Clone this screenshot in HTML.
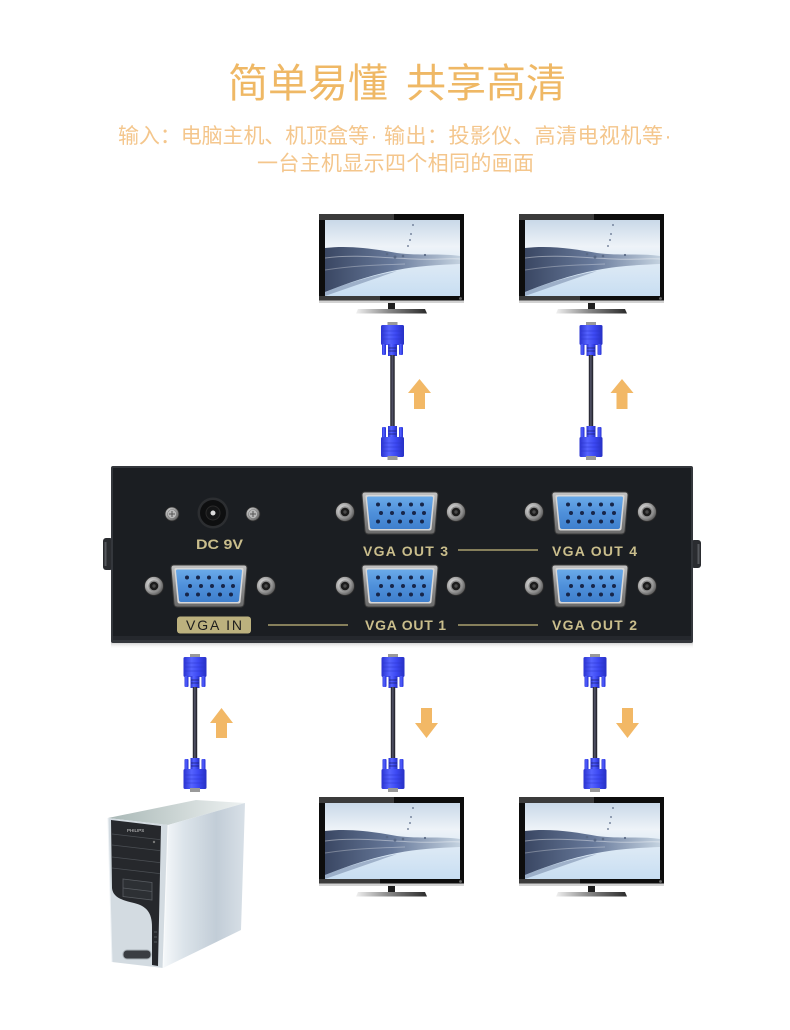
<!DOCTYPE html>
<html><head><meta charset="utf-8"><style>
html,body{margin:0;padding:0;background:#fff;}
svg{display:block;}
</style></head><body>
<svg width="790" height="1030" viewBox="0 0 790 1030" xmlns="http://www.w3.org/2000/svg">
<defs>
  <linearGradient id="shl" x1="0" y1="0" x2="0" y2="1">
    <stop offset="0" stop-color="#c4c4c4"/><stop offset="0.5" stop-color="#8e8e8e"/><stop offset="1" stop-color="#6a6a6a"/>
  </linearGradient>
  <linearGradient id="bp" x1="0" y1="0" x2="0" y2="1">
    <stop offset="0" stop-color="#6aaae9"/><stop offset="0.5" stop-color="#4f90da"/><stop offset="1" stop-color="#3f7fcd"/>
  </linearGradient>
  <radialGradient id="scr" cx="0.4" cy="0.4" r="0.6">
    <stop offset="0" stop-color="#f2f2f2"/><stop offset="0.6" stop-color="#a8a8a8"/><stop offset="1" stop-color="#5e5e5e"/>
  </radialGradient>
  <linearGradient id="cb" x1="0" y1="0" x2="1" y2="0">
    <stop offset="0" stop-color="#2a33d0"/><stop offset="0.35" stop-color="#5563ff"/><stop offset="0.65" stop-color="#3c48f2"/><stop offset="1" stop-color="#2630c4"/>
  </linearGradient>
  <linearGradient id="cbl" x1="0" y1="0" x2="1" y2="0">
    <stop offset="0" stop-color="#15151c"/><stop offset="0.45" stop-color="#55566a"/><stop offset="1" stop-color="#15151c"/>
  </linearGradient>
  <linearGradient id="sky" x1="0" y1="0" x2="0" y2="1">
    <stop offset="0" stop-color="#c9d8e8"/><stop offset="0.35" stop-color="#eef3f8"/><stop offset="0.6" stop-color="#dce9f5"/><stop offset="1" stop-color="#c8def2"/>
  </linearGradient>
  <linearGradient id="wv" x1="0" y1="0" x2="1" y2="0">
    <stop offset="0" stop-color="#3a4763"/><stop offset="0.5" stop-color="#67799a"/><stop offset="1" stop-color="#c4d2e0"/>
  </linearGradient>
  <linearGradient id="bas" x1="0" y1="0" x2="1" y2="0">
    <stop offset="0" stop-color="#f0f0f0"/><stop offset="0.45" stop-color="#8a8a8a"/><stop offset="1" stop-color="#2a2a2a"/>
  </linearGradient>
  <linearGradient id="pct" x1="0" y1="0" x2="1" y2="0">
    <stop offset="0" stop-color="#a9b8b6"/><stop offset="1" stop-color="#eef2f2"/>
  </linearGradient>
  <linearGradient id="pcs" x1="0" y1="0" x2="1" y2="0">
    <stop offset="0" stop-color="#f6f9fb"/><stop offset="0.25" stop-color="#dce4ea"/><stop offset="0.65" stop-color="#c2cdd7"/><stop offset="1" stop-color="#d8e0e7"/>
  </linearGradient>
  <linearGradient id="shd" x1="0" y1="0" x2="0" y2="1">
    <stop offset="0" stop-color="#888" stop-opacity="0.8"/><stop offset="1" stop-color="#fff" stop-opacity="0"/>
  </linearGradient>

  <g id="vp">
    <path d="M-38,-18 Q-38,-21 -35,-21 L35,-21 Q38,-21 38,-18 L35,18 Q34.5,21 31.5,21 L-31.5,21 Q-34.5,21 -35,18 Z" fill="url(#shl)" stroke="#3a3a3a" stroke-width="1"/>
    <path d="M-34.5,-16.5 Q-34.5,-18 -33,-18 L33,-18 Q34.5,-18 34.5,-16.5 L31.5,16 Q31,17.5 29.5,17.5 L-29.5,17.5 Q-31,17.5 -31.5,16 Z" fill="#d8d8d8"/>
    <path d="M-33,-15 Q-33,-16.5 -31.5,-16.5 L31.5,-16.5 Q33,-16.5 33,-15 L30,14.5 Q29.5,16 28,16 L-28,16 Q-29.5,16 -30,14.5 Z" fill="url(#bp)"/>
    <g fill="#17264a">
      <circle cx="-22" cy="-8.5" r="2"/><circle cx="-11" cy="-8.5" r="2"/><circle cx="0" cy="-8.5" r="2"/><circle cx="11" cy="-8.5" r="2"/><circle cx="22" cy="-8.5" r="2"/>
      <circle cx="-19" cy="0" r="2"/><circle cx="-8" cy="0" r="2"/><circle cx="3" cy="0" r="2"/><circle cx="14" cy="0" r="2"/><circle cx="24" cy="0" r="2"/>
      <circle cx="-22" cy="8.5" r="2"/><circle cx="-11" cy="8.5" r="2"/><circle cx="0" cy="8.5" r="2"/><circle cx="11" cy="8.5" r="2"/><circle cx="22" cy="8.5" r="2"/>
    </g>
  </g>

  <g id="sc">
    <circle r="9.5" fill="url(#scr)" stroke="#2a2a2a" stroke-width="0.8"/>
    <circle r="5.6" fill="#8c8c8c"/>
    <circle r="4.3" fill="#1c1c1c"/>
    <circle r="1.7" fill="#4a4a4a"/>
  </g>
  <g id="sc2">
    <circle r="7" fill="url(#scr)" stroke="#2a2a2a" stroke-width="0.8"/>
    <circle r="4.5" fill="#b8b8b8" stroke="#777" stroke-width="0.6"/>
    <path d="M-3,0 H3 M0,-3 V3" stroke="#555" stroke-width="1"/>
  </g>

  <g id="cab">
    <rect x="-5" y="0" width="10" height="4" fill="#9a9a9a"/>
    <rect x="-11.5" y="3" width="23" height="20" rx="1.5" fill="url(#cb)"/>
    <path d="M-10,9 H10 M-10,13 H10 M-10,17 H10" stroke="#2a34c8" stroke-width="0.8" opacity="0.6"/>
    <rect x="-10.5" y="22" width="4" height="11" rx="1" fill="url(#cb)"/>
    <rect x="6.5" y="22" width="4" height="11" rx="1" fill="url(#cb)"/>
    <rect x="-4.5" y="22" width="9" height="12" fill="url(#cb)"/>
    <path d="M-4,26 H4 M-4,29 H4" stroke="#1a1f70" stroke-width="0.8"/>
    <rect x="-2.2" y="33" width="4.4" height="73" fill="url(#cbl)"/>
    <rect x="-4.5" y="104" width="9" height="12" fill="url(#cb)"/>
    <path d="M-4,109 H4 M-4,112 H4" stroke="#1a1f70" stroke-width="0.8"/>
    <rect x="-10.5" y="105" width="4" height="11" rx="1" fill="url(#cb)"/>
    <rect x="6.5" y="105" width="4" height="11" rx="1" fill="url(#cb)"/>
    <rect x="-11.5" y="115" width="23" height="20" rx="1.5" fill="url(#cb)"/>
    <path d="M-10,121 H10 M-10,125 H10 M-10,129 H10" stroke="#2a34c8" stroke-width="0.8" opacity="0.6"/>
    <rect x="-5" y="134" width="10" height="4" fill="#9a9a9a"/>
  </g>

  <g id="mon">
    <rect x="0" y="0" width="145" height="89" fill="#0d0d0d"/>
    <rect x="0" y="0" width="75" height="6" fill="#3b3b3b"/>
    <rect x="0" y="82" width="61" height="5" fill="#3b3b3b"/>
    <rect x="0" y="86.5" width="145" height="2.5" fill="#d2d2d2"/>
    <svg x="6" y="6" width="135" height="76" overflow="hidden">
      <rect width="135" height="76" fill="url(#sky)"/>
      <path d="M0,28 C25,25 50,29 72,33 C95,36 115,33 135,36 L135,44 C112,45 92,46 72,50 C45,55 20,64 0,72 Z" fill="url(#wv)"/>
      <path d="M0,72 C20,64 45,56 72,51 L0,76 Z" fill="#7d8fae" opacity="0.6"/>
      <path d="M0,38 C30,34 60,38 90,39 C110,40 125,38 135,39" stroke="#fff" stroke-opacity="0.4" stroke-width="1" fill="none"/>
      <path d="M0,50 C25,46 50,45 80,44" stroke="#fff" stroke-opacity="0.3" stroke-width="1" fill="none"/>
      <g fill="#5a6a86">
        <circle cx="88" cy="5" r="0.9"/><circle cx="86" cy="14" r="0.9"/><circle cx="85" cy="20" r="0.9"/><circle cx="83" cy="26" r="0.9"/>
        <circle cx="62" cy="34" r="1.3"/><circle cx="70" cy="37" r="1.5"/><circle cx="78" cy="36" r="1.3"/><circle cx="100" cy="35" r="1.1"/>
      </g>
    </svg>
    <circle cx="141.5" cy="84.5" r="1.4" fill="#666"/>
    <rect x="69" y="89" width="7" height="6" fill="#1e1e1e"/>
    <path d="M39,95 L106,95 L108,99.5 L37,99.5 Z" fill="url(#bas)"/>
  </g>
</defs>

<rect width="790" height="1030" fill="#fff"/>

<!-- Heading text -->
<g font-family="'Liberation Sans','Noto Sans CJK SC',sans-serif">
  <text x="228" y="97" font-size="40" fill="#efb865" textLength="160" lengthAdjust="spacing">简单易懂</text>
  <text x="406" y="97" font-size="40" fill="#efb865" textLength="160" lengthAdjust="spacing">共享高清</text>
  <text x="118" y="143" font-size="21" fill="#f4c68c" textLength="251" lengthAdjust="spacing">输入：电脑主机、机顶盒等</text>
  <text x="374" y="143" font-size="21" fill="#f4c68c" text-anchor="middle">·</text>
  <text x="384" y="143" font-size="21" fill="#f4c68c" textLength="279" lengthAdjust="spacing">输出：投影仪、高清电视机等</text>
  <text x="668" y="143" font-size="21" fill="#f4c68c" text-anchor="middle">·</text>
  <text x="257" y="170.5" font-size="21" fill="#f4c68c" textLength="277" lengthAdjust="spacing">一台主机显示四个相同的画面</text>
</g>

<!-- Top monitors -->
<use href="#mon" transform="translate(319,214)"/>
<use href="#mon" transform="translate(519,214)"/>

<!-- Top cables -->
<use href="#cab" transform="translate(392.5,322)"/>
<use href="#cab" transform="translate(591,322)"/>

<!-- Arrows -->
<g fill="#f2b866">
  <path d="M419.5,379 L431,393 L425,393 L425,409 L414,409 L414,393 L408,393 Z"/>
  <path d="M622,379 L633.5,393 L627.5,393 L627.5,409 L616.5,409 L616.5,393 L610.5,393 Z"/>
  <path d="M221.5,708 L233,723 L227,723 L227,738 L216,738 L216,723 L210,723 Z"/>
  <path d="M421,708 L432,708 L432,723 L438,723 L426.5,738 L415,723 L421,723 Z"/>
  <path d="M622,708 L633,708 L633,723 L639,723 L627.5,738 L616,723 L622,723 Z"/>
</g>

<!-- Splitter box -->
<rect x="111" y="640" width="582" height="9" fill="url(#shd)"/>
<rect x="103" y="538" width="10" height="32" rx="3" fill="#2a2c30"/>
<rect x="691" y="540" width="10" height="28" rx="3" fill="#2a2c30"/>
<rect x="104.5" y="542" width="2" height="24" fill="#55585d"/>
<rect x="697.5" y="544" width="2" height="20" fill="#55585d"/>
<rect x="111" y="466" width="582" height="177" rx="2" fill="#34373c"/>
<rect x="113" y="468" width="578" height="172" fill="#1b1e22"/>
<rect x="113" y="636" width="578" height="4" fill="#25282d"/>

<!-- DC jack -->
<use href="#sc2" transform="translate(172,514)"/>
<use href="#sc2" transform="translate(253,514)"/>
<circle cx="213" cy="513" r="15.5" fill="#2c2e31"/>
<circle cx="213" cy="513" r="13" fill="#0e0f10"/>
<circle cx="213" cy="513" r="7" fill="#141516" stroke="#2a2a2a" stroke-width="1"/>
<circle cx="213" cy="513" r="2.5" fill="#dcdcdc"/>

<!-- VGA ports -->
<use href="#vp" transform="translate(209,586)"/>
<use href="#vp" transform="translate(400,513)"/>
<use href="#vp" transform="translate(590,513)"/>
<use href="#vp" transform="translate(400,586)"/>
<use href="#vp" transform="translate(590,586)"/>

<!-- Screws -->
<use href="#sc" transform="translate(154,586)"/>
<use href="#sc" transform="translate(266,586)"/>
<use href="#sc" transform="translate(345,512)"/>
<use href="#sc" transform="translate(456,512)"/>
<use href="#sc" transform="translate(534,512)"/>
<use href="#sc" transform="translate(647,512)"/>
<use href="#sc" transform="translate(345,586)"/>
<use href="#sc" transform="translate(456,586)"/>
<use href="#sc" transform="translate(534,586)"/>
<use href="#sc" transform="translate(647,586)"/>

<!-- Box labels -->
<g stroke="#a99f6e" stroke-width="1.5">
  <line x1="458" y1="550" x2="538" y2="550"/>
  <line x1="268" y1="625" x2="348" y2="625"/>
  <line x1="458" y1="625" x2="538" y2="625"/>
</g>
<rect x="177" y="616.5" width="74" height="17" rx="3" fill="#bcb17e"/>
<g font-family="'Liberation Sans',sans-serif" font-weight="bold" font-size="14" fill="#cabe8c">
  <text x="196" y="549" textLength="47" lengthAdjust="spacingAndGlyphs">DC 9V</text>
  <text x="363" y="556" textLength="85" lengthAdjust="spacing">VGA OUT 3</text>
  <text x="552" y="556" textLength="85" lengthAdjust="spacing">VGA OUT 4</text>
  <text x="365" y="630" textLength="81" lengthAdjust="spacing">VGA OUT 1</text>
  <text x="552" y="630" textLength="85" lengthAdjust="spacing">VGA OUT 2</text>
</g>
<text x="186" y="630" font-family="'Liberation Sans',sans-serif" font-size="14" fill="#1e1e1e" textLength="56" lengthAdjust="spacing">VGA IN</text>

<!-- Bottom cables -->
<use href="#cab" transform="translate(195,654)"/>
<use href="#cab" transform="translate(393,654)"/>
<use href="#cab" transform="translate(595,654)"/>

<!-- Bottom monitors -->
<use href="#mon" transform="translate(319,797)"/>
<use href="#mon" transform="translate(519,797)"/>

<!-- PC tower -->
<polygon points="108,818 196,800 245,803 168,825" fill="url(#pct)"/>
<polygon points="168,825 245,803 241,930 163,968" fill="url(#pcs)"/>
<polygon points="108,818 168,825 163,968 112,962" fill="#d3dbe1"/>
<path d="M111,820 L161,826 L158,966 L152,965 L152,927 C152,912 146,906 134,903 C121,900 113,897 112,888 Z" fill="#26282c"/>
<g stroke="#4c5055" stroke-width="0.8">
  <line x1="112" y1="834" x2="160" y2="839.6"/>
  <line x1="112" y1="845" x2="160" y2="850.6"/>
  <line x1="112" y1="857" x2="160" y2="862.6"/>
  <line x1="112" y1="868" x2="160" y2="873.6"/>
</g>
<polygon points="123,879 152,882.5 152,900 123,896.5" fill="#2d3034" stroke="#585c61" stroke-width="0.8"/>
<line x1="123" y1="888" x2="152" y2="891.5" stroke="#585c61" stroke-width="0.8"/>
<text x="127" y="832" font-family="'Liberation Sans',sans-serif" font-size="4.5" fill="#d0d0d0">PHILIPS</text>
<circle cx="154" cy="842" r="1.2" fill="#777"/>
<g stroke="#60646a" stroke-width="0.8">
  <line x1="154" y1="932" x2="157" y2="932"/><line x1="154" y1="937" x2="157" y2="937"/><line x1="154" y1="942" x2="157" y2="942"/>
</g>
<rect x="123" y="950" width="28" height="9" rx="4" fill="#3a3d42" stroke="#aab2b8" stroke-width="1"/>
<line x1="168" y1="825" x2="163" y2="968" stroke="#ffffff" stroke-width="1" opacity="0.8"/>
<line x1="108" y1="818" x2="112" y2="962" stroke="#eef2f5" stroke-width="1"/>
</svg>
</body></html>
